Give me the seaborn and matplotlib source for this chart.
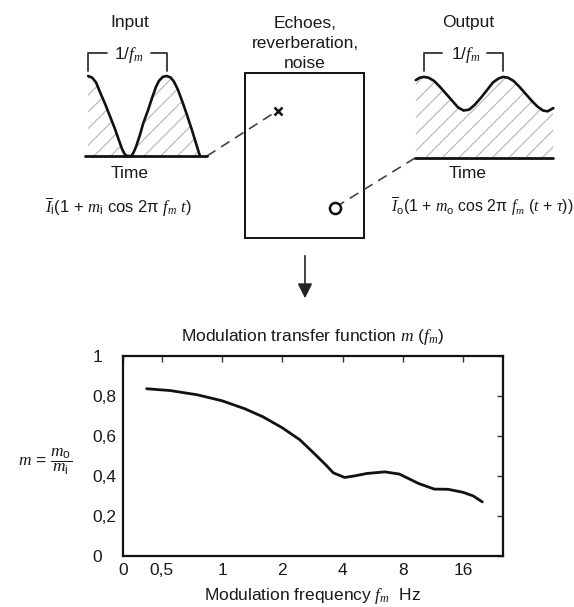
import matplotlib
matplotlib.use('Agg')
import matplotlib.pyplot as plt
import seaborn as sns
import numpy as np
from matplotlib.patches import Rectangle

# modulation transfer function
freq_hz = [0.42, 0.55, 0.75, 1.0, 1.3, 1.6, 2.0, 2.45, 2.9, 3.3, 3.6, 4.1,
           4.6, 5.3, 6.5, 7.7, 9.6, 11.5, 13.5, 16, 18, 20]
mtf = [0.835, 0.826, 0.805, 0.775, 0.735, 0.695, 0.64, 0.58, 0.51, 0.455, 0.415, 0.392,
       0.40, 0.412, 0.42, 0.409, 0.362, 0.334, 0.333, 0.318, 0.30, 0.27]
freq_ticks = [0.5, 1, 2, 4, 8, 16]
freq_labels = ['0,5', '1', '2', '4', '8', '16']
m_ticks = [0, 0.2, 0.4, 0.6, 0.8, 1.0]
m_labels = ['0', '0,2', '0,4', '0,6', '0,8', '1']

# input / output intensity sketches, time in periods of 1/fm
t_in = [0, 0.05, 0.1, 0.15, 0.22, 0.28, 0.34, 0.39, 0.43, 0.46, 0.49, 0.55, 0.58, 0.61,
        0.66, 0.70, 0.76, 0.81, 0.86, 0.9, 0.95, 1.0, 1.05, 1.09, 1.14, 1.2, 1.26, 1.32, 1.42]
i_in = [1.0, 0.98, 0.92, 0.80, 0.64, 0.49, 0.34, 0.20, 0.09, 0.03, 0.0, 0.0, 0.05, 0.12,
        0.27, 0.41, 0.57, 0.72, 0.86, 0.94, 0.99, 1.0, 0.98, 0.93, 0.83, 0.67, 0.50, 0.32, 0.0]
t_out = [-0.10, -0.05, 0, 0.06, 0.13, 0.2, 0.28, 0.36, 0.43, 0.5, 0.57, 0.64, 0.72,
         0.8, 0.87, 0.94, 1.0, 1.06, 1.13, 1.2, 1.28, 1.36, 1.43, 1.5, 1.56, 1.63]
i_out = [0.97, 1.0, 1.01, 1.0, 0.96, 0.89, 0.80, 0.71, 0.63, 0.59, 0.60, 0.66, 0.75,
         0.85, 0.94, 0.99, 1.01, 1.0, 0.96, 0.89, 0.80, 0.71, 0.64, 0.59, 0.58, 0.62]

sns.set_style('white')
plt.rcParams['font.family'] = ['Liberation Sans', 'DejaVu Sans']
plt.rcParams['mathtext.fontset'] = 'custom'
plt.rcParams['mathtext.it'] = 'Liberation Serif:italic'
plt.rcParams['mathtext.rm'] = 'Liberation Sans'
plt.rcParams['mathtext.cal'] = 'Liberation Serif:italic'
plt.rcParams['hatch.linewidth'] = 0.8

W, H = 574, 607
fig = plt.figure(figsize=(W / 100, H / 100), dpi=100)
fig.patch.set_facecolor('white')

def px_axes(x0, y0, x1, y1):
    return fig.add_axes([x0 / W, 1 - y1 / H, (x1 - x0) / W, (y1 - y0) / H])

txt = '#1a1a1a'
fs = 12.5

# overlay in pixel coordinates for the diagram parts
bg = fig.add_axes([0, 0, 1, 1])
bg.set_xlim(0, W)
bg.set_ylim(H, 0)
bg.axis('off')
bg.patch.set_alpha(0)

bg.text(130, 23, 'Input', ha='center', va='center', fontsize=fs, color=txt)
bg.text(468, 23, 'Output', ha='center', va='center', fontsize=fs, color=txt)
bg.text(305, 23, 'Echoes,', ha='center', va='center', fontsize=fs, color=txt)
bg.text(305, 43, 'reverberation,', ha='center', va='center', fontsize=fs, color=txt)
bg.text(305, 63, 'noise', ha='center', va='center', fontsize=fs, color=txt)

# period brackets
for x0, x1, g0, g1, xc in [(88, 167, 107, 151, 129), (424, 503, 442, 487, 466)]:
    bg.plot([x0, x0, g0], [71, 53, 53], color='#333', lw=1.3)
    bg.plot([g1, x1, x1], [53, 53, 71], color='#333', lw=1.3)
    bg.text(xc, 55, r'1/$f_m$', ha='center', va='center', fontsize=fs, color=txt)

bg.text(130, 174, 'Time', ha='center', va='center', fontsize=fs, color=txt)
bg.text(468, 174, 'Time', ha='center', va='center', fontsize=fs, color=txt)
bg.text(45, 207, r'$\overline{I}_\mathrm{i}$(1 + $m_\mathrm{i}$ cos 2π $f_m$ $t$)',
        ha='left', va='center', fontsize=12, color=txt)
bg.text(573, 207, r'$\overline{I}_\mathrm{o}$(1 + $m_\mathrm{o}$ cos 2π $f_m$ ($t$ + $\tau$))',
        ha='right', va='center', fontsize=11.4, color=txt)

# room box with source and receiver
bg.add_patch(Rectangle((245, 73), 119, 165, fill=False, ec='#111', lw=1.4))
bg.plot([207, 277], [156, 111], color='#444', lw=1.2, ls=(0, (6, 4)))
bg.plot([415, 339], [158, 205], color='#444', lw=1.2, ls=(0, (6, 4)))
bg.plot(277.5, 111, marker='x', ms=6, mew=1.8, color='#111')
bg.plot(334.5, 207.5, marker='o', ms=8, mew=1.8, mfc='white', color='#111')
bg.annotate('', xy=(305, 301), xytext=(305, 253),
            arrowprops=dict(arrowstyle='-|>', color='#222', lw=1.2, mutation_scale=22))

bg.text(313, 337, r'Modulation transfer function $m$ ($f_m$)', ha='center', va='center',
        fontsize=fs, color=txt)
bg.text(313, 596, r'Modulation frequency $f_m$  Hz', ha='center', va='center',
        fontsize=fs, color=txt)
bg.text(45, 462, r'$m$ = $\dfrac{m_\mathrm{o}}{m_\mathrm{i}}$', ha='center', va='center',
        fontsize=fs, color=txt)

# input and output waveforms
for box, t, y, lim in [((85, 76, 207, 156), t_in, i_in, (-0.04, 1.51)),
                       ((415, 77.7, 553.3, 157.7), t_out, i_out, (-0.11, 1.63))]:
    wa = px_axes(*box)
    wa.set_xlim(*lim)
    wa.set_ylim(0, 1)
    wa.axis('off')
    wa.patch.set_alpha(0)
    wa.fill_between(t, 0, y, facecolor='none', edgecolor='#b5b5b5', lw=0, hatch='//')
    sns.lineplot(x=t, y=y, ax=wa, color='#111', lw=1.9, sort=False, clip_on=False)
    wa.axhline(0, color='#111', lw=2.0, clip_on=False)

# MTF plot
ax = px_axes(122.7, 355.7, 503.3, 556)
ax.set_xscale('log', base=2)
x_left = 2 ** -1.65
ax.set_xlim(x_left, 2 ** 4.67)
ax.set_ylim(0, 1)
sns.lineplot(x=freq_hz, y=mtf, ax=ax, color='#111', lw=2.0)
ax.minorticks_off()
ax.set_xticks([x_left] + freq_ticks)
ax.set_xticklabels(['0'] + freq_labels)
ax.set_yticks(m_ticks)
ax.set_yticklabels(m_labels, ha='left')
ax.tick_params(axis='both', direction='in', length=4, width=1, top=True, right=True,
               labelsize=fs, labelcolor=txt, color='#333')
ax.tick_params(axis='x', pad=5)
ax.tick_params(axis='y', pad=22)
for s in ax.spines.values():
    s.set_linewidth(1.6)
    s.set_color('#111')
ax.set_xlabel('')
ax.set_ylabel('')

fig.savefig('out.png', dpi=100)
